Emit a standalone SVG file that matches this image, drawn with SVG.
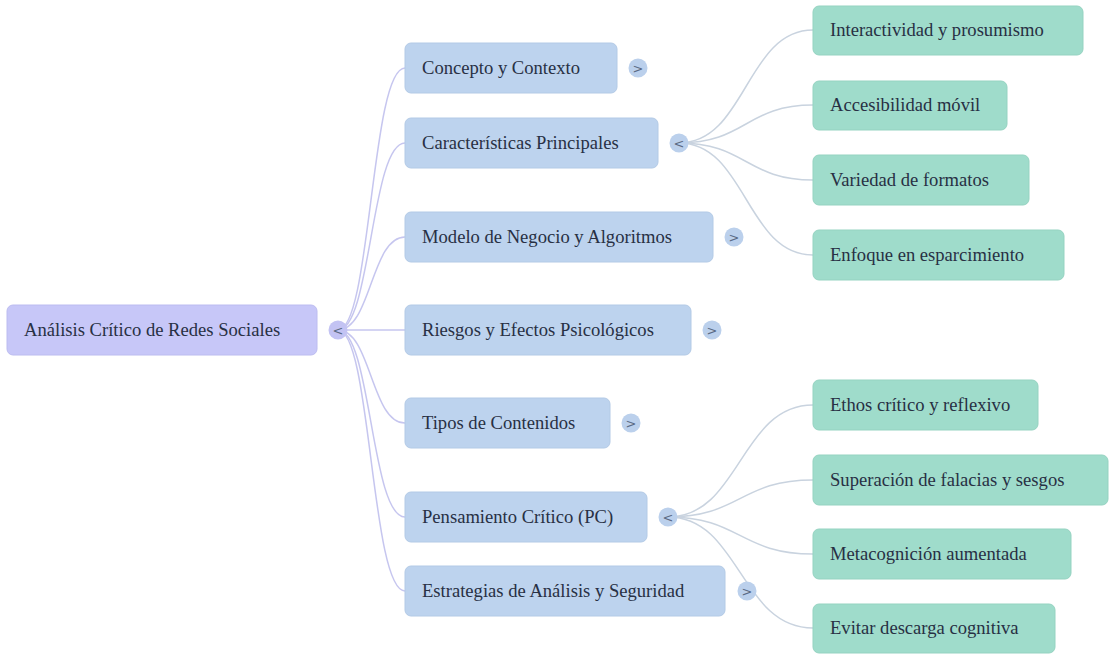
<svg xmlns="http://www.w3.org/2000/svg" width="1109" height="655" viewBox="0 0 1109 655">
<style>
  .t { font-family: "Liberation Serif", "Times New Roman", serif; font-size: 18.6px; fill: #283044; }
  .root rect { fill: #c7c7f8; stroke: #bcbcf0; stroke-width: 1; }
  .l1 rect { fill: #bdd3ee; stroke: #b3cae6; stroke-width: 1; }
  .l2 rect { fill: #9fdccb; stroke: #95d3c1; stroke-width: 1; }
  .tg circle { fill: #bbd0ec; }
  .tgr circle { fill: #c3c3f3; }
  .tg text, .tgr text { font-family: "DejaVu Sans", sans-serif; font-size: 13px; fill: #5a6a84; text-anchor: middle; }
  .c0 { fill: none; stroke: #c6c6ef; stroke-width: 1.5; }
  .c1 { fill: none; stroke: #c9d3df; stroke-width: 1.5; }
</style>
<rect width="1109" height="655" fill="#ffffff"/>
<g id="connectors">
  <path class="c0" d="M338 330 C371 330 371 68 405 68"/>
  <path class="c0" d="M338 330 C371 330 371 143 405 143"/>
  <path class="c0" d="M338 330 C371 330 371 237 405 237"/>
  <path class="c0" d="M338 330 C371 330 371 330 405 330"/>
  <path class="c0" d="M338 330 C371 330 371 423 405 423"/>
  <path class="c0" d="M338 330 C371 330 371 517 405 517"/>
  <path class="c0" d="M338 330 C371 330 371 591 405 591"/>
  <path class="c1" d="M679 143 C746 143 746 30 813 30"/>
  <path class="c1" d="M679 143 C746 143 746 105 813 105"/>
  <path class="c1" d="M679 143 C746 143 746 180 813 180"/>
  <path class="c1" d="M679 143 C746 143 746 255 813 255"/>
  <path class="c1" d="M668 517 C740 517 740 405 813 405"/>
  <path class="c1" d="M668 517 C740 517 740 480 813 480"/>
  <path class="c1" d="M668 517 C740 517 740 554 813 554"/>
  <path class="c1" d="M668 517 C740 517 740 628 813 628"/>
</g>
<g id="root" class="root">
  <rect x="7" y="305" width="310" height="50" rx="6"/>
  <text class="t" x="24" y="336">Análisis Crítico de Redes Sociales</text>
</g>
<g id="root-toggle" class="tgr"><circle cx="338" cy="330" r="9.5"/><text x="338" y="334.5">&lt;</text></g>

<g id="n-concepto" class="l1">
  <rect x="405" y="43" width="212" height="50" rx="6"/>
  <text class="t" x="422" y="74">Concepto y Contexto</text>
</g>
<g id="t-concepto" class="tg"><circle cx="638" cy="68" r="9.5"/><text x="638" y="72.5">&gt;</text></g>

<g id="n-caracteristicas" class="l1">
  <rect x="405" y="118" width="253" height="50" rx="6"/>
  <text class="t" x="422" y="149">Características Principales</text>
</g>
<g id="t-caracteristicas" class="tg"><circle cx="679" cy="143" r="9.5"/><text x="679" y="147.5">&lt;</text></g>

<g id="n-modelo" class="l1">
  <rect x="405" y="212" width="308" height="50" rx="6"/>
  <text class="t" x="422" y="243">Modelo de Negocio y Algoritmos</text>
</g>
<g id="t-modelo" class="tg"><circle cx="734" cy="237" r="9.5"/><text x="734" y="241.5">&gt;</text></g>

<g id="n-riesgos" class="l1">
  <rect x="405" y="305" width="286" height="50" rx="6"/>
  <text class="t" x="422" y="336">Riesgos y Efectos Psicológicos</text>
</g>
<g id="t-riesgos" class="tg"><circle cx="712" cy="330" r="9.5"/><text x="712" y="334.5">&gt;</text></g>

<g id="n-tipos" class="l1">
  <rect x="405" y="398" width="205" height="50" rx="6"/>
  <text class="t" x="422" y="429">Tipos de Contenidos</text>
</g>
<g id="t-tipos" class="tg"><circle cx="631" cy="423" r="9.5"/><text x="631" y="427.5">&gt;</text></g>

<g id="n-pensamiento" class="l1">
  <rect x="405" y="492" width="242" height="50" rx="6"/>
  <text class="t" x="422" y="523">Pensamiento Crítico (PC)</text>
</g>
<g id="t-pensamiento" class="tg"><circle cx="668" cy="517" r="9.5"/><text x="668" y="521.5">&lt;</text></g>

<g id="n-estrategias" class="l1">
  <rect x="405" y="566" width="320" height="50" rx="6"/>
  <text class="t" x="422" y="597">Estrategias de Análisis y Seguridad</text>
</g>
<g id="t-estrategias" class="tg"><circle cx="747" cy="591" r="9.5"/><text x="747" y="595.5">&gt;</text></g>

<g id="n-interactividad" class="l2">
  <rect x="813" y="6" width="270" height="49" rx="6"/>
  <text class="t" x="830" y="36">Interactividad y prosumismo</text>
</g>
<g id="n-accesibilidad" class="l2">
  <rect x="813" y="81" width="194" height="49" rx="6"/>
  <text class="t" x="830" y="111">Accesibilidad móvil</text>
</g>
<g id="n-variedad" class="l2">
  <rect x="813" y="155" width="216" height="50" rx="6"/>
  <text class="t" x="830" y="186">Variedad de formatos</text>
</g>
<g id="n-enfoque" class="l2">
  <rect x="813" y="230" width="251" height="50" rx="6"/>
  <text class="t" x="830" y="261">Enfoque en esparcimiento</text>
</g>
<g id="n-ethos" class="l2">
  <rect x="813" y="380" width="225" height="50" rx="6"/>
  <text class="t" x="830" y="411">Ethos crítico y reflexivo</text>
</g>
<g id="n-superacion" class="l2">
  <rect x="813" y="455" width="295" height="50" rx="6"/>
  <text class="t" x="830" y="486">Superación de falacias y sesgos</text>
</g>
<g id="n-metacognicion" class="l2">
  <rect x="813" y="529" width="258" height="50" rx="6"/>
  <text class="t" x="830" y="560">Metacognición aumentada</text>
</g>
<g id="n-evitar" class="l2">
  <rect x="813" y="604" width="242" height="49" rx="6"/>
  <text class="t" x="830" y="634">Evitar descarga cognitiva</text>
</g>
</svg>
